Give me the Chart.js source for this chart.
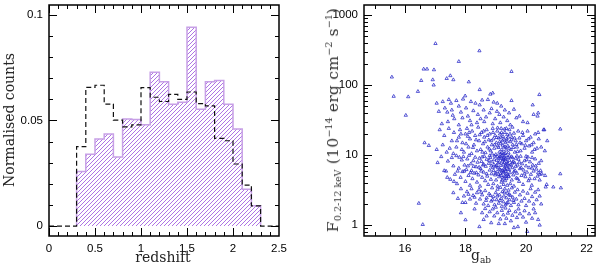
<!DOCTYPE html>
<html>
<head>
<meta charset="utf-8">
<script src="https://cdn.jsdelivr.net/npm/chart.js@4.4.0/dist/chart.umd.min.js"></script>
<style>
  body { margin: 0; background: #fff; }
  #wrap { position: relative; width: 600px; height: 269px; font-family: 'DejaVu Serif', serif; color: #222; }
  #wrap canvas { position: absolute; top: 0; }
  #histChart { left: 0; }
  #fluxChart { left: 300px; }
  .ttl { position: absolute; white-space: nowrap; font-size: 14px; transform: translate(-50%, -50%); }
  .ttl.rot { transform: translate(-50%, -50%) rotate(-90deg); }
  .ttl sub, .ttl sup { font-size: 9px; }
  .ttl sub { vertical-align: -3px; }
  .ttl sup { vertical-align: 6px; }
  #fluxTitle { font-size: 15.5px; letter-spacing: 0.3px; color: #333; }
  #fluxTitle sub, #fluxTitle sup { font-size: 9.5px; letter-spacing: 0; }
</style>
</head>
<body>
<div id="wrap">
  <canvas id="histChart" width="300" height="269"></canvas>
  <canvas id="fluxChart" width="300" height="269"></canvas>
  <div class="ttl rot" style="left:9px; top:120px;">Normalised counts</div>
  <div class="ttl" style="left:163px; top:257px;">redshift</div>
  <div class="ttl rot" id="fluxTitle" style="left:333px; top:120px;">F<sub>0.2-12 keV</sub> (10<sup>−14</sup> erg cm<sup>−2</sup> s<sup>−1</sup>)</div>
  <div class="ttl" style="left:481px; top:256px;">g<sub>ab</sub></div>
</div>
<script>
// left panel: redshift histograms (bins of 0.1)
const binEdges = [0.3, 0.4, 0.5, 0.6, 0.7, 0.8, 0.9, 1.0, 1.1, 1.2, 1.3, 1.4, 1.5, 1.6, 1.7, 1.8, 1.9, 2.0, 2.1, 2.2, 2.3];
const hatchedCounts = [0.0258, 0.0340, 0.0412, 0.0436, 0.0327, 0.0507, 0.0505, 0.0480, 0.0728, 0.0684,
                       0.0577, 0.0586, 0.0942, 0.0553, 0.0684, 0.0690, 0.0577, 0.0460, 0.0174, 0.0096];
const dashedCounts = [0.0376, 0.0657, 0.0667, 0.0578, 0.0502, 0.0470, 0.0479, 0.0656, 0.0610, 0.0590,
                      0.0624, 0.0600, 0.0635, 0.0580, 0.0569, 0.0415, 0.0404, 0.0294, 0.0194, 0.0096];
const histXTicks = [0, 0.5, 1, 1.5, 2, 2.5];
const histXLabels = ['0', '0.5', '1', '1.5', '2', '2.5'];
const histYTicks = [0, 0.05, 0.1];
const histYLabels = ['0', '0.05', '0.1'];

// right panel: g_ab magnitude vs 0.2-12 keV flux
const fluxXTicks = [16, 18, 20, 22];
const fluxXLabels = ['16', '18', '20', '22'];
const fluxYTicks = [1, 10, 100, 1000];
const fluxYLabels = ['1', '10', '100', '1000'];
const gabFlux = [
  [17.01,391],[18.46,308],[17.78,217],[19.52,156],[15.57,130],[16.62,169],[16.73,169],[16.96,165],[16.92,119],[16.95,100],
  [17.38,124],[17.5,136],[17.6,119],[16.54,116],[18.11,111],[16.43,81],[15.63,69],[16.11,68],[16.03,37],[17.99,70],
  [18.47,86],[18.82,74],[18.9,77],[20.44,73],[19.05,55],[16.65,15],[16.79,13.7],[16.46,2.05],[16.59,1.02],[18.0,1.19],
  [18.46,0.95],[20.04,0.81],[19.73,0.95],[17.08,7.8],[20.6,23],[21.13,23.5],[20.38,36],[20.4,40],[21.13,5.4],[21.15,3.4],
  [17.05,55],[17.12,42],[17.25,58],[17.32,47],[17.45,62],[17.52,55],[17.63,33],[17.7,60],[17.78,50],[17.85,41],
  [17.92,63],[18.02,47],[18.08,36],[18.18,58],[18.26,43],[18.33,55],[18.41,38],[18.47,52],[18.55,61],[18.6,44],
  [18.68,35],[18.74,62],[18.8,40],[18.86,46],[18.93,57],[18.98,33],[19.04,42],[19.12,38],[19.18,50],[19.26,35],
  [19.3,44],[19.38,31],[19.44,40],[19.52,60],[19.6,45],[19.68,34],[19.78,36],[19.9,30],[20.05,29],[20.22,52],
  [20.25,38],[17.42,30],[17.58,37],[17.9,34],[18.15,31],[18.38,29],[18.62,30],[18.9,28],[19.15,29],[19.48,27],
  [17.22,28],[17.78,27],[18.5,33],[18.2,27],[17.4,41],[17.55,44],
  [17.15,23],[17.3,19],[17.45,24],[17.55,16],[17.62,21],[17.7,13],[17.78,18],[17.82,23],[17.9,15],[17.95,11],
  [18.0,20],[18.05,24],[18.1,13],[18.15,17],[18.2,10.5],[18.22,22],[18.28,14],[18.32,19],[18.38,11.5],[18.42,25],
  [18.45,16],[18.5,12],[18.53,21],[18.58,14.5],[18.62,18],[18.66,10.8],[18.7,23],[18.73,13],[18.77,16.5],[18.8,20],
  [18.83,11.5],[18.87,14],[18.9,24],[18.92,17],[18.95,12.5],[18.98,19],[19.0,10.2],[19.02,15],[19.05,22],[19.07,13.5],
  [19.1,17.5],[19.12,11],[19.14,20],[19.16,14.5],[19.18,24],[19.2,12],[19.22,16],[19.24,18.5],[19.26,10.5],[19.28,13],
  [19.3,21],[19.32,15],[19.34,11.8],[19.36,17],[19.38,19.5],[19.4,13.5],[19.42,10.8],[19.45,23],[19.48,15.5],[19.5,12],
  [19.53,18],[19.56,14],[19.6,20.5],[19.63,11],[19.66,16],[19.7,13],[19.74,22],[19.78,17.5],[19.82,11.5],[19.86,14.5],
  [19.9,19],[19.95,12.5],[20.0,16],[20.05,22],[20.1,13.5],[20.15,18],[20.2,11],[20.25,15],[20.3,20],[20.36,12.5],
  [20.42,17],[20.5,13],[20.58,23],[20.62,11.5],[20.7,16],[17.25,14],[17.38,11],[17.48,12.5],[17.6,10.5],[17.72,16],
  [17.85,20],[17.88,12],[18.02,14.5],[18.12,21],[18.25,12.8],[18.35,16.5],[18.47,19.5],[18.56,11],[18.64,15.5],[18.72,19],
  [18.79,12.2],[18.85,16],[18.91,21],[18.96,14],[19.03,17.8],[19.09,12.8],[19.13,15.5],[19.17,18],[19.21,10.8],[19.23,13.8],
  [19.27,16.8],[19.29,23.5],[19.33,13],[19.37,15.8],[19.41,18],[19.44,12.5],[19.47,20],[19.52,16.5],[19.58,12.8],[19.62,17.5],
  [19.68,14.2],[19.72,11.2],[19.8,15],[19.88,21],[19.98,13.8],[20.08,17],[20.18,14],[20.28,12],[20.4,21],[17.05,12],
  [18.08,18.5],[18.6,22],[19.06,24.5],[19.19,21],[19.35,24],[19.55,25],[19.15,10.3],[19.31,10.6],[18.88,10.4],
  [17.2,9.5],[17.3,6],[17.36,5.9],[17.42,8.2],[17.5,4.5],[17.55,9.2],[17.6,7],[17.65,5.3],[17.7,9.8],[17.72,3.9],
  [17.78,6.5],[17.8,9.3],[17.84,4.8],[17.88,8.5],[17.9,5.8],[17.93,9.5],[17.97,7.2],[18.0,4.2],[18.03,6.2],[18.06,8.8],
  [18.1,5.1],[18.12,9.9],[18.15,3.7],[18.18,7.5],[18.2,6.0],[18.23,4.6],[18.26,8.3],[18.29,5.5],[18.32,9.3],[18.35,6.8],
  [18.38,4.1],[18.4,7.9],[18.43,5.2],[18.46,9.0],[18.48,3.6],[18.5,6.4],[18.53,8.1],[18.55,4.8],[18.58,7.2],[18.6,5.7],
  [18.62,9.6],[18.65,4.3],[18.67,6.9],[18.7,8.7],[18.72,5.0],[18.75,3.8],[18.77,7.6],[18.8,6.1],[18.82,9.2],[18.84,4.5],
  [18.86,5.4],[18.88,8.0],[18.9,6.6],[18.92,3.9],[18.94,7.3],[18.96,9.7],[18.98,5.2],[19.0,6.9],[19.01,4.4],[19.03,8.4],
  [19.05,5.8],[19.06,3.6],[19.08,7.7],[19.1,9.1],[19.11,4.9],[19.13,6.3],[19.14,8.9],[19.16,5.4],[19.17,7.1],[19.19,4.1],
  [19.2,9.8],[19.21,6.0],[19.22,8.2],[19.23,4.7],[19.24,5.6],[19.25,7.4],[19.26,3.8],[19.27,9.4],[19.28,6.5],[19.29,5.0],
  [19.3,8.6],[19.31,4.3],[19.32,7.0],[19.33,5.9],[19.34,9.9],[19.35,4.6],[19.36,6.8],[19.37,8.0],[19.38,3.7],[19.39,5.3],
  [19.4,7.6],[19.41,9.2],[19.42,4.9],[19.44,6.2],[19.45,8.4],[19.47,5.6],[19.48,3.9],[19.5,7.3],[19.52,9.5],[19.53,4.4],
  [19.55,6.6],[19.57,8.1],[19.58,5.2],[19.6,3.6],[19.62,7.8],[19.64,6.0],[19.66,9.0],[19.68,4.7],[19.7,5.5],[19.72,7.2],
  [19.75,8.7],[19.77,4.2],[19.8,6.4],[19.82,9.6],[19.85,5.1],[19.87,7.5],[19.9,3.8],[19.92,6.1],[19.95,8.3],[19.98,4.9],
  [20.0,7.0],[20.03,5.7],[20.06,9.4],[20.08,4.3],[20.1,6.6],[20.13,8.0],[20.16,5.3],[20.19,3.7],[20.22,7.2],[20.25,5.9],
  [20.28,4.6],[20.3,8.8],[20.34,6.3],[20.38,5.0],[20.42,7.6],[20.45,4.4],[20.48,6.0],[20.52,5.4],[20.63,5.1],[20.68,3.8],
  [18.99,5.5],[19.07,6.6],[19.12,7.9],[19.18,5.1],[19.21,4.4],[19.24,8.6],[19.28,7.8],[19.3,6.2],[19.32,4.9],[19.35,5.4],
  [19.37,7.4],[19.4,6.3],[19.43,5.0],[19.46,7.0],[19.26,5.8],[19.16,6.1],[19.09,5.3],[19.03,7.1],[18.93,6.0],[18.85,7.0],
  [18.78,8.4],[18.7,5.4],[18.6,7.4],[18.52,5.9],[18.45,6.7],[18.36,5.6],[18.27,6.9],[18.17,5.6],[18.08,7.0],[17.96,5.9],
  [17.74,5.9],[17.62,4.2],[17.4,4.8],[19.55,7.7],[19.6,5.8],[19.66,6.9],[19.72,4.6],[19.78,7.9],[19.84,6.6],[19.94,5.4],
  [20.02,8.6],[20.12,4.6],[20.2,6.5],[20.32,7.0],[20.4,5.6],[20.46,5.3],[20.5,8.3],[19.15,9.5],[19.25,9.0],[19.33,8.9],
  [19.05,9.6],[18.95,8.7],[19.45,9.7],[19.55,9.2],[19.7,9.7],[20.0,9.6],[20.2,9.2],[18.8,9.8],[18.55,9.4],
  [17.6,2.9],[17.75,2.4],[17.85,3.3],[17.95,2.6],[18.0,2.1],[18.05,3.0],[18.15,2.35],[18.2,3.3],[18.25,2.65],[18.35,2.05],
  [18.38,2.9],[18.45,3.2],[18.48,2.35],[18.55,2.7],[18.6,2.0],[18.65,3.1],[18.7,2.45],[18.75,1.9],[18.78,2.8],[18.85,2.2],
  [18.88,3.4],[18.92,2.55],[18.96,1.95],[19.0,2.9],[19.03,2.3],[19.06,3.25],[19.1,2.05],[19.12,2.7],[19.15,3.45],[19.18,2.4],
  [19.2,1.85],[19.22,3.0],[19.25,2.15],[19.27,2.6],[19.3,3.3],[19.32,1.95],[19.35,2.45],[19.38,2.85],[19.4,2.1],[19.42,3.15],
  [19.45,2.3],[19.48,2.65],[19.5,1.9],[19.53,3.4],[19.56,2.5],[19.6,2.1],[19.63,2.95],[19.68,2.35],[19.72,3.2],[19.75,1.95],
  [19.8,2.7],[19.85,2.2],[19.9,3.05],[19.95,2.4],[20.0,1.9],[20.05,2.85],[20.1,2.2],[20.15,3.3],[20.2,2.55],[20.25,2.0],
  [20.3,2.95],[20.35,2.3],[20.4,3.2],[20.45,2.6],[20.5,2.0],[20.65,3.5],[20.9,3.5],[19.05,2.6],[19.14,2.25],[19.28,2.95],
  [19.36,2.05],[19.44,2.75],[19.58,2.25],[18.9,2.3],[18.82,2.65],[18.68,2.25],[18.52,2.95],[18.3,2.5],[18.1,2.75],[17.9,2.1],
  [17.85,1.5],[18.3,1.7],[18.55,1.5],[18.6,1.2],[18.65,1.72],[18.7,1.35],[18.8,1.55],[18.85,1.08],[18.9,1.7],[18.95,1.35],
  [19.0,1.8],[19.05,1.5],[19.1,1.05],[19.15,1.22],[19.2,1.62],[19.25,1.4],[19.3,1.05],[19.32,1.75],[19.35,1.25],[19.4,1.48],
  [19.45,1.62],[19.5,1.15],[19.55,1.38],[19.6,0.92],[19.65,1.55],[19.7,1.28],[19.75,1.7],[19.8,1.45],[19.9,1.3],[19.95,1.6],
  [20.0,1.1],[20.1,1.45],[20.2,1.25],[20.25,1.7],[20.3,1.5],[20.4,1.2],[20.45,1.0]
];

const HATCH_COLOR = 'rgb(165, 100, 225)';

function stepPoints(edges, vals, lead) {
  const pts = lead ? lead.slice() : [{x: edges[0], y: 0}];
  vals.forEach((v, i) => pts.push({x: edges[i], y: v}));
  pts.push({x: edges[edges.length - 1], y: 0});
  return pts;
}

function minorTicks(from, to, step) {
  const out = [];
  for (let v = from; v <= to + step / 2; v += step) out.push(+v.toFixed(4));
  return out;
}

// diagonal hatching under the stepped purple dataset (index 1), clipped to its outline
const hatchFill = {
  id: 'hatchFill',
  beforeDatasetsDraw(chart) {
    const pts = chart.getDatasetMeta(1).data;
    if (!pts.length) return;
    const {ctx, chartArea: a} = chart;
    const base = chart.scales.y.getPixelForValue(0);
    ctx.save();
    ctx.beginPath();
    ctx.moveTo(pts[0].x, base);
    ctx.lineTo(pts[0].x, pts[0].y);
    for (let i = 1; i < pts.length; i++) {
      ctx.lineTo(pts[i].x, pts[i - 1].y);
      ctx.lineTo(pts[i].x, pts[i].y);
    }
    ctx.lineTo(pts[pts.length - 1].x, base);
    ctx.closePath();
    ctx.clip();
    ctx.strokeStyle = HATCH_COLOR;
    ctx.lineWidth = 0.9;
    ctx.beginPath();
    const h = a.bottom - a.top;
    for (let x = a.left - h; x < a.right + h; x += 4) {
      ctx.moveTo(x, a.bottom);
      ctx.lineTo(x + h, a.top);
    }
    ctx.stroke();
    ctx.restore();
  }
};

// frame with inward ticks on all four sides
const frameTicks = {
  id: 'frameTicks',
  afterDraw(chart, args, o) {
    const {ctx, chartArea: a, scales: {x, y}} = chart;
    ctx.save();
    ctx.strokeStyle = '#000';
    ctx.lineWidth = 1;
    ctx.beginPath();
    const xt = (vals, len) => vals.forEach(v => {
      const p = Math.round(x.getPixelForValue(v)) + 0.5;
      if (p < a.left || p > a.right) return;
      ctx.moveTo(p, a.bottom); ctx.lineTo(p, a.bottom - len);
      ctx.moveTo(p, a.top); ctx.lineTo(p, a.top + len);
    });
    const yt = (vals, len) => vals.forEach(v => {
      const p = Math.round(y.getPixelForValue(v)) + 0.5;
      if (p < a.top || p > a.bottom) return;
      ctx.moveTo(a.left, p); ctx.lineTo(a.left + len, p);
      ctx.moveTo(a.right, p); ctx.lineTo(a.right - len, p);
    });
    xt(o.xMinor, 4); xt(o.xMajor, 8);
    yt(o.yMinor, 4); yt(o.yMajor, 8);
    ctx.stroke();
    ctx.lineWidth = 1.5;
    ctx.strokeRect(a.left, a.top, a.right - a.left, a.bottom - a.top);
    ctx.restore();
  }
};

const tickFont = {family: "'Liberation Sans', Arial, sans-serif", size: 11.5};

function axisX(min, max, ticks, labels, type) {
  return {
    type: type || 'linear', min, max,
    afterFit: s => { s.height = 33; s.paddingLeft = 0; s.paddingRight = 0; },
    afterBuildTicks: s => { s.ticks = ticks.map(v => ({value: v})); },
    grid: {display: false, drawTicks: false},
    border: {display: false},
    ticks: {padding: 6, font: tickFont, color: '#000', maxRotation: 0, autoSkip: false,
            callback: (v, i) => labels[i]}
  };
}

function axisY(min, max, ticks, labels, width, type) {
  return {
    type: type || 'linear', min, max,
    afterFit: s => { s.width = width; s.paddingTop = 0; s.paddingBottom = 0; },
    afterBuildTicks: s => { s.ticks = ticks.map(v => ({value: v})); },
    grid: {display: false, drawTicks: false},
    border: {display: false},
    ticks: {padding: 6, font: tickFont, color: '#000', autoSkip: false,
            callback: (v, i) => labels[i]}
  };
}

new Chart(document.getElementById('histChart'), {
  type: 'line',
  data: {
    datasets: [{
      data: stepPoints(binEdges, dashedCounts, [{x: 0, y: 0}]).concat([{x: 2.5, y: 0}]),
      stepped: 'before',
      fill: false,
      borderColor: '#111',
      borderWidth: 1.2,
      borderDash: [5, 3],
      pointRadius: 0
    }, {
      data: stepPoints(binEdges, hatchedCounts),
      stepped: 'before',
      fill: false,
      borderColor: '#c7a0e6',
      borderWidth: 1.5,
      pointRadius: 0
    }]
  },
  options: {
    responsive: false,
    animation: false,
    layout: {padding: {top: 5, right: 21, left: 0, bottom: 0}},
    plugins: {
      legend: {display: false},
      tooltip: {enabled: false},
      frameTicks: {
        xMajor: histXTicks, xMinor: minorTicks(0, 2.5, 0.1),
        yMajor: histYTicks, yMinor: minorTicks(0, 0.1, 0.01)
      }
    },
    scales: {
      x: axisX(0, 2.5, histXTicks, histXLabels),
      y: axisY(-0.0047, 0.1047, histYTicks, histYLabels, 49)
    }
  },
  plugins: [hatchFill, frameTicks]
});

const logMinor = [0.8, 0.9, 2, 3, 4, 5, 6, 7, 8, 9, 20, 30, 40, 50, 60, 70, 80, 90, 200, 300, 400, 500, 600, 700, 800, 900];

new Chart(document.getElementById('fluxChart'), {
  type: 'scatter',
  data: {
    datasets: [{
      data: gabFlux.map(p => ({x: p[0], y: p[1]})),
      pointStyle: 'triangle',
      radius: 1.9,
      borderWidth: 0.9,
      borderColor: 'rgba(40, 40, 200, 0.85)',
      backgroundColor: 'rgba(0, 0, 0, 0)'
    }]
  },
  options: {
    responsive: false,
    animation: false,
    layout: {padding: {top: 5, right: 4, left: 0, bottom: 0}},
    plugins: {
      legend: {display: false},
      tooltip: {enabled: false},
      frameTicks: {
        xMajor: fluxXTicks, xMinor: minorTicks(15, 22, 0.5),
        yMajor: fluxYTicks, yMinor: logMinor
      }
    },
    scales: {
      x: axisX(14.65, 22.28, fluxXTicks, fluxXLabels),
      y: axisY(0.72, 1390, fluxYTicks, fluxYLabels, 64, 'logarithmic')
    }
  },
  plugins: [frameTicks]
});
</script>
</body>
</html>
